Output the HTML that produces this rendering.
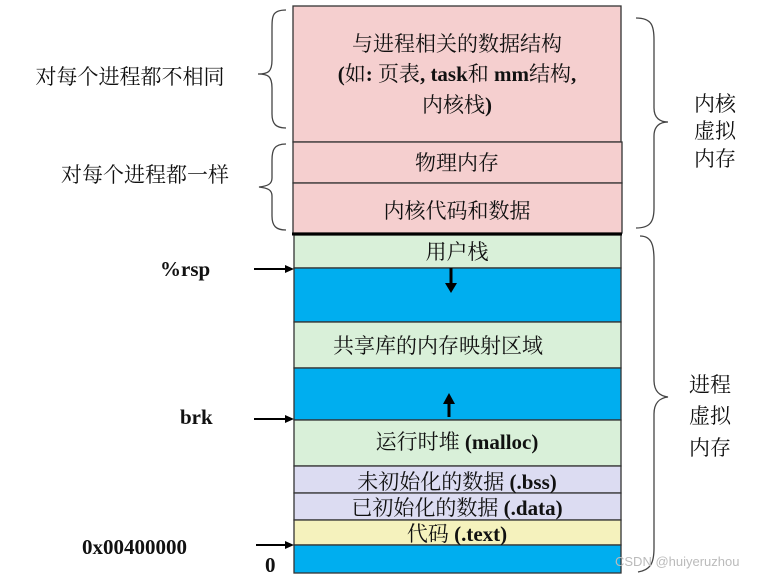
<!DOCTYPE html>
<html><head><meta charset="utf-8"><style>
body{margin:0;background:#fff}
svg text{font-family:"Liberation Serif","Noto Serif CJK SC",serif;fill:#111}
</style></head><body>
<svg width="778" height="580" xmlns="http://www.w3.org/2000/svg">
<g stroke="#333" stroke-width="1.3">
<rect x="293" y="6" width="328" height="136" fill="#f5cfcf"/>
<rect x="293" y="142" width="329" height="41" fill="#f5cfcf"/>
<rect x="293" y="183" width="329" height="50" fill="#f5cfcf"/>
<rect x="294" y="235" width="327" height="33" fill="#d9f0d9"/>
<rect x="294" y="268" width="327" height="54" fill="#00aeef"/>
<rect x="294" y="322" width="327" height="46" fill="#d9f0d9"/>
<rect x="294" y="368" width="327" height="52" fill="#00aeef"/>
<rect x="294" y="420" width="327" height="46" fill="#d9f0d9"/>
<rect x="294" y="466" width="327" height="27" fill="#dcdcf2"/>
<rect x="294" y="493" width="327" height="27" fill="#dcdcf2"/>
<rect x="294" y="520" width="327" height="25" fill="#f5f2bd"/>
<rect x="294" y="545" width="327" height="28" fill="#00aeef"/>
</g>
<line x1="292" y1="234" x2="622" y2="234" stroke="#000" stroke-width="3"/>
<!-- arrows in blue -->
<line x1="451" y1="268" x2="451" y2="285" stroke="#000" stroke-width="3"/>
<polygon points="445,283 457,283 451,293" fill="#000"/>
<line x1="449" y1="417" x2="449" y2="402" stroke="#000" stroke-width="3"/>
<polygon points="443,404 455,404 449,393" fill="#000"/>
<!-- left pointers -->
<g stroke="#000" stroke-width="2"><line x1="254" y1="269" x2="286" y2="269"/><line x1="254" y1="419" x2="286" y2="419"/><line x1="256" y1="545" x2="286" y2="545"/></g>
<polygon points="285,265 294,269 285,273" fill="#000"/>
<polygon points="285,415 294,419 285,423" fill="#000"/>
<polygon points="285,541 294,545 285,549" fill="#000"/>
<!-- braces -->
<g fill="none" stroke="#444" stroke-width="1.3">
<path d="M286,10 C272,10 272,16 272,30 L272,60 C272,72 268,74 258,74 C268,74 272,76 272,88 L272,114 C272,124 276,128 286,128"/>
<path d="M286,144 C274,144 272,150 272,160 L272,178 C272,184 268,186 259,187 C268,188 272,190 272,196 L272,216 C272,226 276,230 286,230"/>
<path d="M636,18 C652,18 654,26 654,40 L654,108 C654,118 660,122 668,122 C660,122 654,126 654,136 L654,208 C654,222 650,228 636,228"/>
<path d="M640,236 C652,236 654,246 654,260 L654,380 C654,392 660,396 668,397 C660,398 654,402 654,414 L654,548 C654,564 650,570 638,572"/>
</g>
<g font-size="21" text-anchor="middle">
<text x="457" y="51">与进程相关的数据结构</text>
<text x="457" y="81"><tspan font-weight="bold">(</tspan>如<tspan font-weight="bold">: </tspan>页表<tspan font-weight="bold">, task</tspan>和 <tspan font-weight="bold">mm</tspan>结构<tspan font-weight="bold">,</tspan></text>
<text x="457" y="112">内核栈<tspan font-weight="bold">)</tspan></text>
<text x="457" y="170">物理内存</text>
<text x="457" y="218">内核代码和数据</text>
<text x="457" y="259">用户栈</text>
<text x="438" y="353">共享库的内存映射区域</text>
<text x="457" y="449">运行时堆 <tspan font-weight="bold">(malloc)</tspan></text>
<text x="457" y="489">未初始化的数据 <tspan font-weight="bold">(.bss)</tspan></text>
<text x="457" y="515">已初始化的数据 <tspan font-weight="bold">(.data)</tspan></text>
<text x="457" y="541">代码 <tspan font-weight="bold">(.text)</tspan></text>
<text x="130" y="84">对每个进程都不相同</text>
<text x="145" y="182">对每个进程都一样</text>
<text x="715" y="111">内核</text>
<text x="715" y="138">虚拟</text>
<text x="715" y="166">内存</text>
<text x="710" y="392">进程</text>
<text x="710" y="423">虚拟</text>
<text x="710" y="455">内存</text>
</g>
<g font-size="21" font-weight="bold">
<text x="160" y="276">%rsp</text>
<text x="180" y="424">brk</text>
<text x="82" y="554">0x00400000</text>
<text x="265" y="572">0</text>
</g>
<text x="615" y="566" font-size="13" style="font-family:'Liberation Sans',sans-serif;fill:#bbb">CSDN @huiyeruzhou</text>
</svg>
</body></html>
